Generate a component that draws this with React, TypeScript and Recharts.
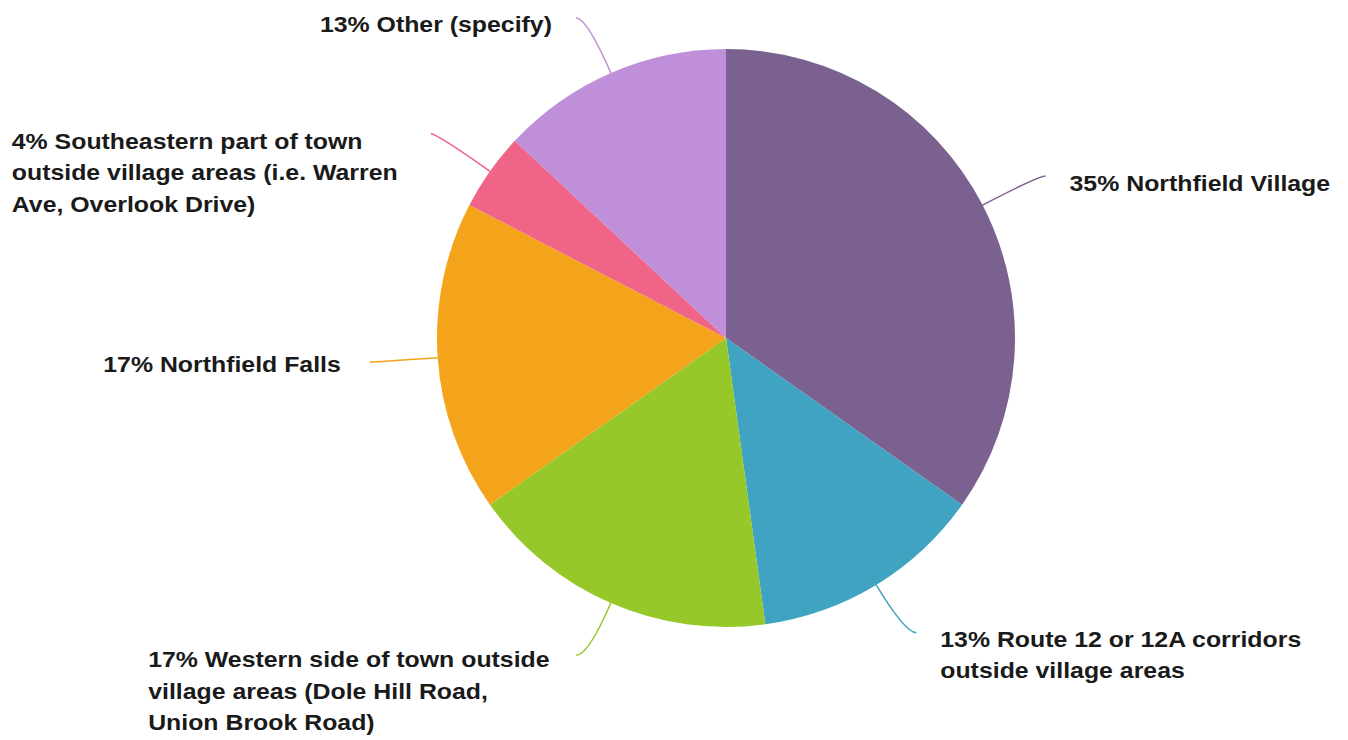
import { PieChart, Pie, Cell } from 'recharts'

// survey responses by area (23 total)
const categories = [
  'Northfield Village',
  'Route 12 or 12A corridors outside village areas',
  'Western side of town outside village areas (Dole Hill Road, Union Brook Road)',
  'Northfield Falls',
  'Southeastern part of town outside village areas (i.e. Warren Ave, Overlook Drive)',
  'Other (specify)',
]
const counts = [8, 3, 4, 4, 1, 3]
const colors = ['#7b6190', '#3fa3c1', '#96c829', '#f4a41b', '#ef6487', '#bf8fd9']

// how each label is wrapped on screen
const labelLines = [
  ['Northfield Village'],
  ['Route 12 or 12A corridors', 'outside village areas'],
  ['Western side of town outside', 'village areas (Dole Hill Road,', 'Union Brook Road)'],
  ['Northfield Falls'],
  ['Southeastern part of town', 'outside village areas (i.e. Warren', 'Ave, Overlook Drive)'],
  ['Other (specify)'],
]

// leader line: ext = radial length past the rim, h = horizontal tail
// text: gap from line end, dy = baseline offset, width = block width for left-aligned multi-line
const layout = [
  { ext: 63, h: 7, side: 'right', gap: 24, dy: 15, width: 0 },
  { ext: 56, h: 11, side: 'right', gap: 24, dy: 14, width: 0 },
  { ext: 57, h: 12, side: 'left', gap: 26, dy: 12, width: 402 },
  { ext: 62, h: 6, side: 'left', gap: 29, dy: 10, width: 0 },
  { ext: 65, h: 6, side: 'left', gap: 24, dy: 15, width: 395 },
  { ext: 60, h: 11, side: 'left', gap: 24, dy: 14, width: 0 },
]

const total = counts.reduce((a, b) => a + b, 0)
const data = categories.map((name, i) => ({ name, value: counts[i] }))

const RADIAN = Math.PI / 180
const SX = 1.13
const LINE_H = 31.5

function renderLabel(props: any) {
  const { cx, cy, midAngle, outerRadius, index } = props
  const cfg = layout[index]
  const cos = Math.cos(-midAngle * RADIAN)
  const sin = Math.sin(-midAngle * RADIAN)
  const sx = cx + outerRadius * cos
  const sy = cy + outerRadius * sin
  const qx = cx + (outerRadius + cfg.ext) * cos
  const qy = cy + (outerRadius + cfg.ext) * sin
  const dir = cfg.side === 'right' ? 1 : -1
  const ex = qx + dir * cfg.h
  const ey = qy
  const pct = Math.round((counts[index] / total) * 100)
  const lines = labelLines[index].map((l, i) => (i === 0 ? `${pct}% ${l}` : l))

  let tx: number
  let anchor: 'start' | 'end' = 'start'
  if (cfg.side === 'right') {
    tx = ex + cfg.gap
  } else if (cfg.width > 0) {
    tx = ex - cfg.gap - cfg.width
  } else {
    tx = ex - cfg.gap
    anchor = 'end'
  }
  const ty = ey + cfg.dy

  return (
    <g key={`lbl-${index}`}>
      <path d={`M${sx},${sy} Q${qx},${qy} ${ex},${ey}`} stroke={colors[index]} strokeWidth={1.5} fill="none" />
      <text
        transform={`translate(${tx},${ty}) scale(${SX},1)`}
        x={0}
        y={0}
        fill="#1a1a1a"
        fontFamily="'Liberation Sans', Arial, sans-serif"
        fontWeight="bold"
        fontSize={22}
        textAnchor={anchor}
      >
        {lines.map((l, i) => (
          <tspan key={i} x={0} dy={i === 0 ? 0 : LINE_H}>
            {l}
          </tspan>
        ))}
      </text>
    </g>
  )
}

export default function App() {
  return (
    <div style={{ position: 'fixed', left: 0, top: 0, background: '#fff' }}>
      <PieChart width={1348} height={740} margin={{ top: 0, right: 0, bottom: 0, left: 0 }}>
        <Pie
          data={data}
          dataKey="value"
          nameKey="name"
          cx={726}
          cy={338}
          outerRadius={289}
          startAngle={90}
          endAngle={-270}
          stroke="none"
          label={renderLabel}
          labelLine={false}
          isAnimationActive={false}
        >
          {data.map((d, i) => (
            <Cell key={d.name} fill={colors[i]} />
          ))}
        </Pie>
      </PieChart>
    </div>
  )
}
